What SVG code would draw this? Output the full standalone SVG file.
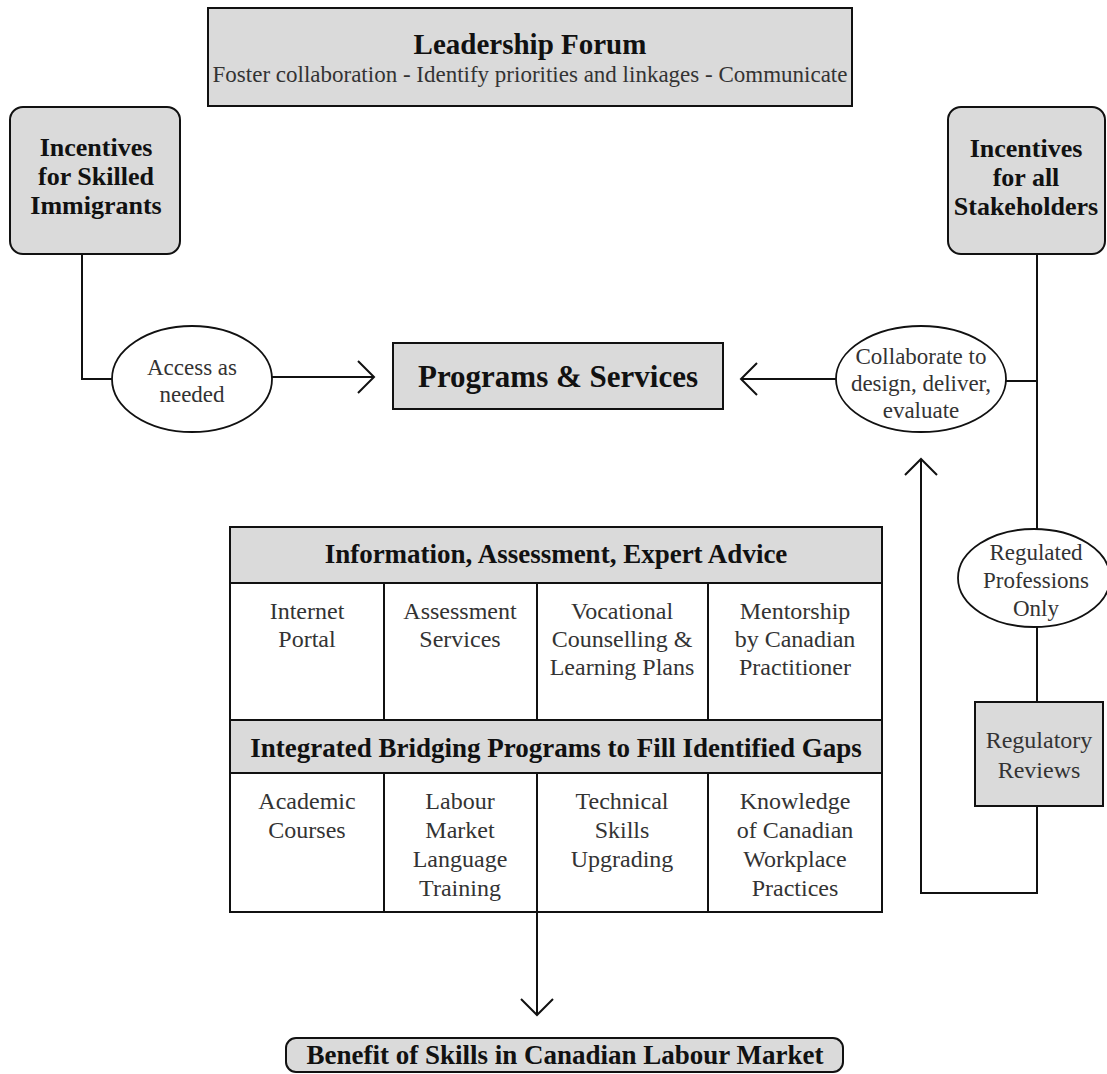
<svg xmlns="http://www.w3.org/2000/svg" width="1107" height="1074" viewBox="0 0 1107 1074">
<style>
  .box { fill: #dadada; stroke: #111; stroke-width: 2; }
  .cell { fill: #ffffff; stroke: #111; stroke-width: 2; }
  .ell { fill: #ffffff; stroke: #111; stroke-width: 1.8; }
  .ln { fill: none; stroke: #111; stroke-width: 2; }
  .b { font-family: "Liberation Serif", "Times New Roman", serif; font-weight: bold; fill: #111; text-anchor: middle; }
  .r { font-family: "Liberation Serif", "Times New Roman", serif; fill: #333; text-anchor: middle; }
</style>
<defs>
  <marker id="chev" viewBox="-20 -20 24 40" refX="0" refY="0" markerWidth="24" markerHeight="40" markerUnits="userSpaceOnUse" orient="auto">
    <path d="M-16,-16 L0,0 L-16,16" fill="none" stroke="#111" stroke-width="2"/>
  </marker>
</defs>
<rect width="1107" height="1074" fill="#ffffff"/>

<g id="connectors">
  <path class="ln" d="M82,254 V379 H113"/>
  <path class="ln" d="M272,377 H374" marker-end="url(#chev)"/>
  <path class="ln" d="M1037,254 V529"/>
  <path class="ln" d="M1006,381 H1037"/>
  <path class="ln" d="M836,379 H741" marker-end="url(#chev)"/>
  <path class="ln" d="M1037,626 V702"/>
  <path class="ln" d="M1037,806 V893 H921 V459" marker-end="url(#chev)"/>
  <path class="ln" d="M537,912 V1015" marker-end="url(#chev)"/>
</g>

<g id="leadership-forum">
  <rect class="box" x="208" y="8" width="644" height="98"/>
  <text class="b" x="530" y="54" font-size="29">Leadership Forum</text>
  <text class="r" x="530" y="82" font-size="23">Foster collaboration - Identify priorities and linkages - Communicate</text>
</g>

<g id="incentives-immigrants">
  <rect class="box" x="10" y="107" width="170" height="147" rx="13" ry="13"/>
  <text class="b" x="96" y="156" font-size="26">Incentives</text>
  <text class="b" x="96" y="185" font-size="26">for Skilled</text>
  <text class="b" x="96" y="214" font-size="26">Immigrants</text>
</g>

<g id="incentives-stakeholders">
  <rect class="box" x="948" y="107" width="157" height="147" rx="13" ry="13"/>
  <text class="b" x="1026" y="157" font-size="26">Incentives</text>
  <text class="b" x="1026" y="186" font-size="26">for all</text>
  <text class="b" x="1026" y="215" font-size="26">Stakeholders</text>
</g>

<g id="access-as-needed">
  <ellipse class="ell" cx="192" cy="379" rx="80" ry="53"/>
  <text class="r" x="192" y="375" font-size="23">Access as</text>
  <text class="r" x="192" y="402" font-size="23">needed</text>
</g>

<g id="programs-services">
  <rect class="box" x="393" y="343" width="330" height="66"/>
  <text class="b" x="558" y="387" font-size="31">Programs &amp; Services</text>
</g>

<g id="collaborate">
  <ellipse class="ell" cx="921" cy="379" rx="85" ry="53"/>
  <text class="r" x="921" y="364" font-size="23">Collaborate to</text>
  <text class="r" x="921" y="391" font-size="23">design, deliver,</text>
  <text class="r" x="921" y="418" font-size="23">evaluate</text>
</g>

<g id="regulated-professions">
  <ellipse class="ell" cx="1034" cy="578" rx="76" ry="49"/>
  <text class="r" x="1036" y="560" font-size="23">Regulated</text>
  <text class="r" x="1036" y="588" font-size="23">Professions</text>
  <text class="r" x="1036" y="616" font-size="23">Only</text>
</g>

<g id="regulatory-reviews">
  <rect class="box" x="975" y="702" width="128" height="104"/>
  <text class="r" x="1039" y="748" font-size="24">Regulatory</text>
  <text class="r" x="1039" y="778" font-size="24">Reviews</text>
</g>

<g id="programs-table">
  <g id="header-information">
    <rect class="box" x="230" y="527" width="652" height="56"/>
    <text class="b" x="556" y="563" font-size="27">Information, Assessment, Expert Advice</text>
  </g>
  <g id="cell-internet-portal">
    <rect class="cell" x="230" y="583" width="154" height="137"/>
    <text class="r" x="307" y="619" font-size="24">Internet</text>
    <text class="r" x="307" y="647" font-size="24">Portal</text>
  </g>
  <g id="cell-assessment-services">
    <rect class="cell" x="384" y="583" width="153" height="137"/>
    <text class="r" x="460" y="619" font-size="24">Assessment</text>
    <text class="r" x="460" y="647" font-size="24">Services</text>
  </g>
  <g id="cell-vocational">
    <rect class="cell" x="537" y="583" width="171" height="137"/>
    <text class="r" x="622" y="619" font-size="24">Vocational</text>
    <text class="r" x="622" y="647" font-size="24">Counselling &amp;</text>
    <text class="r" x="622" y="675" font-size="24">Learning Plans</text>
  </g>
  <g id="cell-mentorship">
    <rect class="cell" x="708" y="583" width="174" height="137"/>
    <text class="r" x="795" y="619" font-size="24">Mentorship</text>
    <text class="r" x="795" y="647" font-size="24">by Canadian</text>
    <text class="r" x="795" y="675" font-size="24">Practitioner</text>
  </g>
  <g id="header-bridging">
    <rect class="box" x="230" y="720" width="652" height="53"/>
    <text class="b" x="556" y="757" font-size="27">Integrated Bridging Programs to Fill Identified Gaps</text>
  </g>
  <g id="cell-academic">
    <rect class="cell" x="230" y="773" width="154" height="139"/>
    <text class="r" x="307" y="809" font-size="24">Academic</text>
    <text class="r" x="307" y="838" font-size="24">Courses</text>
  </g>
  <g id="cell-language">
    <rect class="cell" x="384" y="773" width="153" height="139"/>
    <text class="r" x="460" y="809" font-size="24">Labour</text>
    <text class="r" x="460" y="838" font-size="24">Market</text>
    <text class="r" x="460" y="867" font-size="24">Language</text>
    <text class="r" x="460" y="896" font-size="24">Training</text>
  </g>
  <g id="cell-technical">
    <rect class="cell" x="537" y="773" width="171" height="139"/>
    <text class="r" x="622" y="809" font-size="24">Technical</text>
    <text class="r" x="622" y="838" font-size="24">Skills</text>
    <text class="r" x="622" y="867" font-size="24">Upgrading</text>
  </g>
  <g id="cell-workplace">
    <rect class="cell" x="708" y="773" width="174" height="139"/>
    <text class="r" x="795" y="809" font-size="24">Knowledge</text>
    <text class="r" x="795" y="838" font-size="24">of Canadian</text>
    <text class="r" x="795" y="867" font-size="24">Workplace</text>
    <text class="r" x="795" y="896" font-size="24">Practices</text>
  </g>
</g>

<g id="benefit">
  <rect class="box" x="286" y="1038" width="557" height="34" rx="10" ry="10"/>
  <text class="b" x="565" y="1064" font-size="27">Benefit of Skills in Canadian Labour Market</text>
</g>
</svg>
